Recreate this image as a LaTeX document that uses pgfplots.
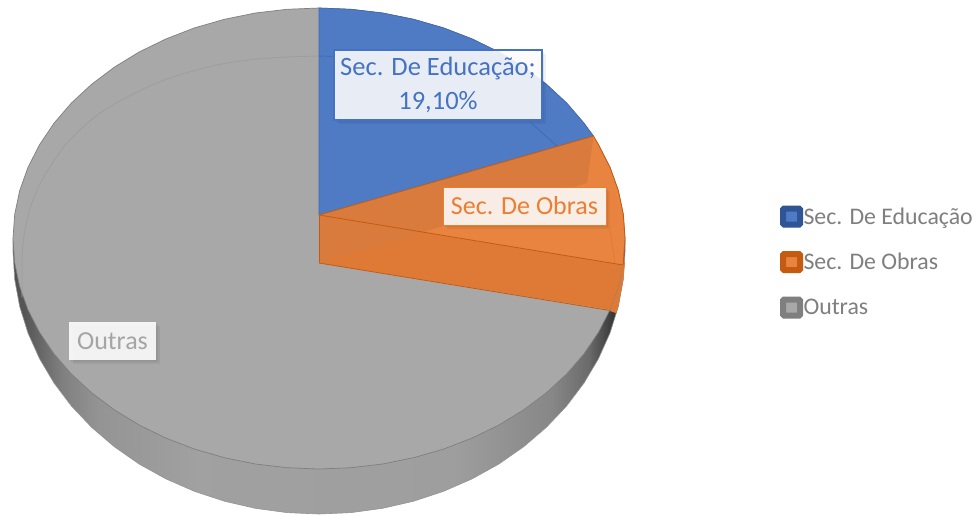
\documentclass[border=0pt]{standalone}
\usepackage{fontspec}
\setmainfont{Carlito}
\usepackage{pgfplots}
\pgfplotsset{compat=1.18}
\usetikzlibrary{shadows}

\definecolor{eduBlue}{HTML}{4F7BC5}
\definecolor{eduEdge}{HTML}{3F69B2}
\definecolor{eduText}{HTML}{4472C4}
\definecolor{eduDark}{HTML}{2F5597}
\definecolor{obrasLight}{HTML}{E8843F}
\definecolor{obrasMid}{HTML}{DF7A36}
\definecolor{obrasWall}{HTML}{D97B3C}
\definecolor{obrasEdge}{HTML}{C55A11}
\definecolor{obrasText}{HTML}{ED7D31}
\definecolor{outrasGray}{HTML}{A8A8A8}
\definecolor{outrasDark}{HTML}{7F7F7F}
\definecolor{outrasText}{HTML}{A5A5A5}
\definecolor{legendText}{HTML}{7F7F7F}

% side wall of the pie: x 13..625 maps to 25..75bp
\pgfdeclarehorizontalshading{wall}{100bp}{
  color(0bp)=(black!65);
  color(25bp)=(black!68);
  color(26bp)=(black!66);
  color(29bp)=(black!50);
  color(32bp)=(black!42);
  color(40bp)=(black!37);
  color(61bp)=(black!38);
  color(69bp)=(black!47);
  color(72bp)=(black!58);
  color(74bp)=(black!78);
  color(75bp)=(black!72);
  color(100bp)=(black!72)}

\tikzset{
  lbl/.style={inner sep=0pt, fill=white, fill opacity=0.88, text opacity=1, align=center,
    drop shadow={shadow xshift=2pt, shadow yshift=-2pt, opacity=0.06, fill=black},
    drop shadow={shadow xshift=4pt, shadow yshift=-4pt, opacity=0.05, fill=black}},
}

\begin{document}
\begin{tikzpicture}
\begin{axis}[
    scale only axis, width=980pt, height=515pt,
    xmin=0, xmax=980, ymin=0, ymax=515, y dir=reverse,
    hide axis, clip=true,
    legend style={at={(axis cs:780,205.5)}, anchor=north west, draw=none, fill=none,
      font=\fontsize{23.8}{28}\selectfont, text=legendText, row sep=23.5pt,
      inner sep=0pt, outer sep=0pt, nodes={inner sep=0.5pt}},
    legend cell align=left,
    legend image code/.code={
      \draw[#1, line width=6pt, rounded corners=1pt] (0pt,-8pt) rectangle (17pt,8pt);
    },
]
\addlegendimage{draw=eduDark, fill=eduBlue}
\addlegendimage{draw=obrasEdge, fill=obrasLight}
\addlegendimage{draw=outrasDark, fill=outrasGray}
\addlegendentry{Sec. De Educação}
\addlegendentry{Sec. De Obras}
\addlegendentry{Outras}

% page background, fixes the picture's size
\addplot[draw=none, fill=white] coordinates {(0,0) (980,0) (980,515) (0,515)} -- cycle;

% side wall, lower half of the bottom ellipse
\addplot[draw=black!42, line width=0.6pt, shade, shading=wall] coordinates {
  (625,240) (625,252) (623.3,279.4) (618.3,306.5) (610,333) (598.5,358.6) (584,383)
  (566.6,406) (546.4,427.3) (523.7,446.7) (498.9,464) (472,478.9) (443.5,491.3)
  (413.6,501.2) (382.6,508.3) (351,512.6) (319,514)
  (287,512.6) (255.4,508.3) (224.4,501.2) (194.5,491.3) (166,478.9) (139.1,464)
  (114.3,446.7) (91.6,427.3) (71.4,406) (54,383) (39.5,358.6) (28,333) (19.7,306.5)
  (14.7,279.4) (13,252) (13,240)
} -- cycle;

% orange part of the wall
\addplot[draw=none, fill=obrasMid] coordinates {
  (623,262) (625,262) (623.3,279.4) (618.3,306.5) (616,313) (610,311)
} -- cycle;

% top face, Outras
\addplot[draw=outrasDark, line width=0.7pt, fill=outrasGray] coordinates {
  (319,8) (351,9.3) (382.6,13) (413.6,19.3) (443.5,27.9) (472,38.9) (498.9,52)
  (523.7,67.2) (546.4,84.3) (566.6,103) (584,123.2) (598.5,144.8) (610,167.3)
  (618.3,190.6) (623.3,214.4) (625,238.5) (623.3,262.6) (618.3,286.4) (610,309.7)
  (598.5,332.2) (584,353.8) (566.6,374) (546.4,392.7) (523.7,409.8) (498.9,425)
  (472,438.1) (443.5,449.1) (413.6,457.7) (382.6,464) (351,467.7) (319,469)
  (287,467.7) (255.4,464) (224.4,457.7) (194.5,449.1) (166,438.1) (139.1,425)
  (114.3,409.8) (91.6,392.7) (71.4,374) (54,353.8) (39.5,332.2) (28,309.7)
  (19.7,286.4) (14.7,262.6) (13,238.5) (14.7,214.4) (19.7,190.6) (28,167.3)
  (39.5,144.8) (54,123.2) (71.4,103) (91.6,84.3) (114.3,67.2) (139.1,52) (166,38.9)
  (194.5,27.9) (224.4,19.3) (255.4,13) (287,9.3)
} -- cycle;

% faint back rim seen through the gray face
\addplot[smooth, draw=black!38, line width=0.8pt] coordinates {
  (22,297) (22,265) (23,243) (27,220) (33,200) (45,175) (67,143) (100,113) (135,93)
  (167,79) (200,69) (227,63) (257,59) (288,57) (319,56)
};

% Sec. De Educação
\addplot[draw=eduEdge, line width=0.7pt, fill=eduBlue] coordinates {
  (319,215) (319,8) (351,9.3) (382.6,13) (413.6,19.3) (443.5,27.9) (472,38.9)
  (498.9,52) (523.7,67.2) (546.4,84.3) (566.6,103) (584,123.2) (593.5,136)
} -- cycle;
\addplot[draw=eduEdge, line width=0.7pt] coordinates {(319,56) (335,56.3)};
\addplot[draw=eduEdge, line width=0.7pt] coordinates {(530,122) (557,146)};

% Sec. De Obras, top wedge and front slab
\addplot[draw=none, fill=obrasMid] coordinates {
  (319,215) (623,265) (618.3,286.4) (610,309.7) (319,263)
} -- cycle;
\addplot[draw=none, fill=obrasLight] coordinates {
  (319,215) (593.5,136) (598.5,144.8) (610,167.3) (618.3,190.6) (623.3,214.4)
  (625,238.5) (623.3,262.6) (623,265)
} -- cycle;
\addplot[draw=none, fill=obrasWall] coordinates {
  (319,215) (593.5,136) (587,183) (319,263)
} -- cycle;
\addplot[draw=obrasMid, line width=0.7pt] coordinates {(610,230) (615,263)};
\addplot[draw=obrasEdge, line width=0.8pt] coordinates {(319,215) (593.5,136)};
\addplot[draw=obrasEdge, line width=0.8pt] coordinates {(319,215) (623,265)};
\addplot[draw=obrasEdge, line width=0.8pt] coordinates {(319,263) (610,310.5)};
\addplot[draw=obrasEdge, line width=0.8pt] coordinates {(319,215) (319,263)};
\addplot[draw=obrasEdge, line width=0.8pt] coordinates {
  (593.5,136) (598.5,144.8) (610,167.3) (618.3,190.6) (623.3,214.4) (625,238.5)
  (623.3,262.6) (623,265)
};

% data labels
\node[lbl, draw=eduText, line width=2pt, text=eduText, minimum width=208pt, minimum height=70pt,
  font=\fontsize{26.5}{34}\selectfont]
  at (axis cs:438,85) {Sec. De Educação;\\19,10\%};
\node[lbl, draw=obrasText, line width=1pt, text=obrasText, minimum width=163pt, minimum height=38pt,
  font=\fontsize{26}{31}\selectfont]
  at (axis cs:524.5,206) {Sec. De Obras};
\node[lbl, text=outrasText, minimum width=87pt, minimum height=38pt,
  font=\fontsize{26}{31}\selectfont]
  at (axis cs:112.5,341) {Outras};
\end{axis}
\end{tikzpicture}
\end{document}
